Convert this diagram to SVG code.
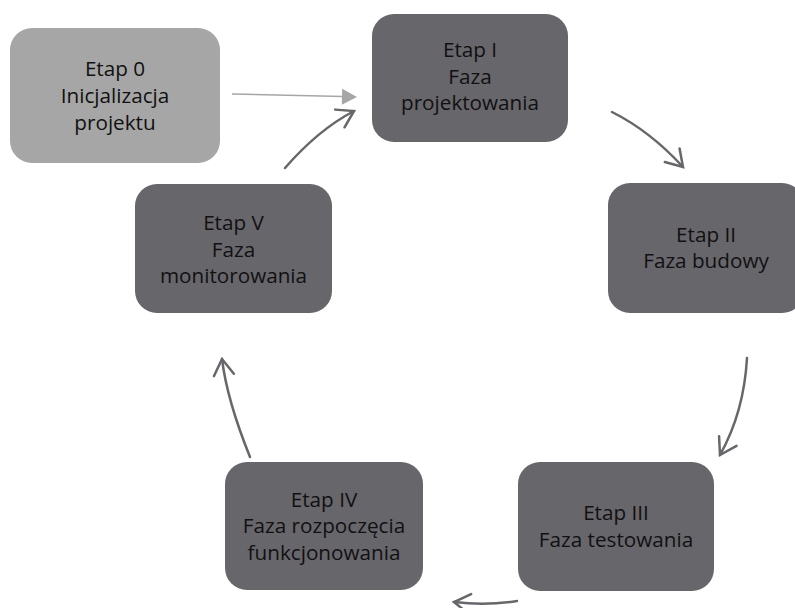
<svg xmlns="http://www.w3.org/2000/svg" width="795" height="608" viewBox="0 0 795 608">
<defs>
<style>
.node{fill:#67666b;}
.start{fill:#a6a6a6;}
.lbl{font-family:"Open Sans","Liberation Sans",sans-serif;font-size:20.7px;fill:#111;text-anchor:middle;}
.conn{fill:none;stroke:#67666b;stroke-width:2.5;stroke-linecap:round;}
.conn0{fill:none;stroke:#a6a6a6;stroke-width:1.6;}
</style>
<marker id="chev" markerUnits="userSpaceOnUse" markerWidth="24" markerHeight="24" viewBox="-20 -12 24 24" refX="0" refY="0" orient="auto">
<path d="M-16,-10 L0,0 L-16,10" fill="none" stroke="#67666b" stroke-width="2.5" stroke-linecap="round" stroke-linejoin="miter"/>
</marker>
<marker id="tri" markerUnits="userSpaceOnUse" markerWidth="20" markerHeight="20" viewBox="-16 -10 20 20" refX="0" refY="0" orient="auto">
<path d="M-15,-8 L0,0 L-15,8 Z" fill="#a6a6a6"/>
</marker>
</defs>
<rect width="795" height="608" fill="#fff"/>
<g id="connectors">
<path class="conn0" d="M232,94 L343,96.5"/>
<path d="M342,96.7 L357,97" stroke="none" marker-end="url(#tri)"/>
<path class="conn" d="M612,112 Q650,131 683,167" marker-end="url(#chev)"/>
<path class="conn" d="M747,358 Q744,412 720,455" marker-end="url(#chev)"/>
<path class="conn" d="M517,601 Q486,606 454,602" marker-end="url(#chev)"/>
<path class="conn" d="M250,457 Q227,400 222,359" marker-end="url(#chev)"/>
<path class="conn" d="M285,168 Q318,130 354,111" marker-end="url(#chev)"/>
</g>
<g id="etap0">
<rect class="start" x="10" y="28" width="210" height="135" rx="22"/>
<text class="lbl" x="115" y="76">Etap 0</text>
<text class="lbl" x="115" y="103">Inicjalizacja</text>
<text class="lbl" x="115" y="130">projektu</text>
</g>
<g id="etap1">
<rect class="node" x="372" y="14" width="196" height="128" rx="22"/>
<text class="lbl" x="470" y="57">Etap I</text>
<text class="lbl" x="470" y="84">Faza</text>
<text class="lbl" x="470" y="110">projektowania</text>
</g>
<g id="etap2">
<rect class="node" x="608" y="183" width="196" height="130" rx="22"/>
<text class="lbl" x="706" y="242">Etap II</text>
<text class="lbl" x="706" y="268">Faza budowy</text>
</g>
<g id="etap3">
<rect class="node" x="518" y="462" width="196" height="129" rx="22"/>
<text class="lbl" x="616" y="520">Etap III</text>
<text class="lbl" x="616" y="547">Faza testowania</text>
</g>
<g id="etap4">
<rect class="node" x="225" y="462" width="198" height="128" rx="22"/>
<text class="lbl" x="324" y="507">Etap IV</text>
<text class="lbl" x="324" y="533">Faza rozpoczęcia</text>
<text class="lbl" x="324" y="560">funkcjonowania</text>
</g>
<g id="etap5">
<rect class="node" x="135" y="184" width="197" height="129" rx="22"/>
<text class="lbl" x="233.5" y="230">Etap V</text>
<text class="lbl" x="233.5" y="257">Faza</text>
<text class="lbl" x="233.5" y="283">monitorowania</text>
</g>
</svg>
